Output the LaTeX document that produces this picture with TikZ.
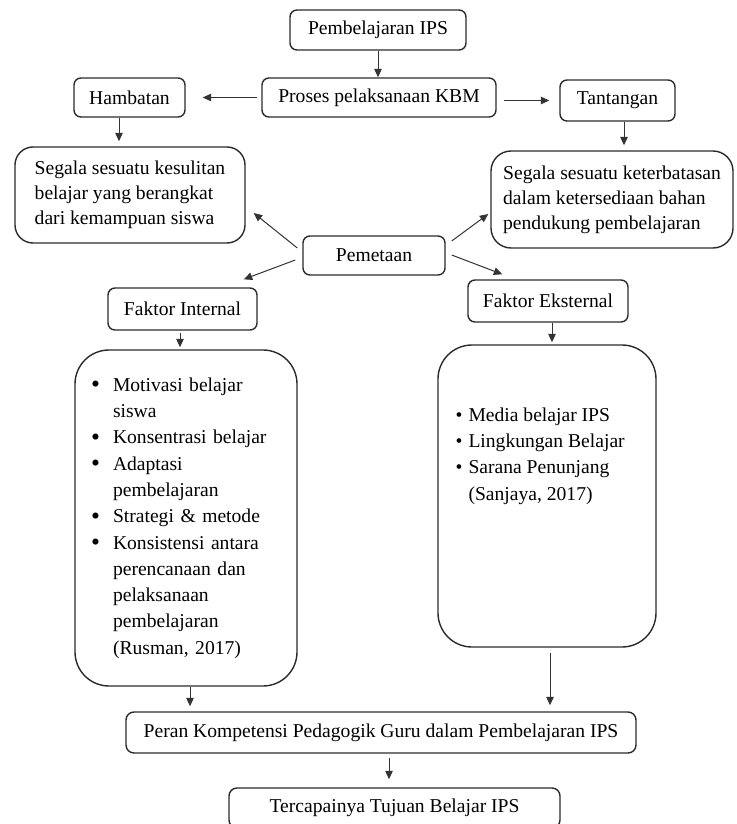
\documentclass[tikz,border=0pt]{standalone}
\usepackage{fontspec}
\setmainfont{Liberation Serif}
\usepackage{tikz}
\usetikzlibrary{arrows.meta,positioning}
\definecolor{inkline}{HTML}{2B2B2B}
\definecolor{inkarrow}{HTML}{333333}
\newcommand{\bulitem}[2][22pt]{\makebox[#1][l]{\textbullet}#2}
\newcommand{\bigbulitem}[1]{\makebox[22pt][l]{\raisebox{-0.09em}{\scalebox{1.3}{\textbullet}}}#1}
\newcommand{\bulcont}[2][22pt]{\hspace*{#1}#2}
\tikzset{
  flowbox/.style={
    rectangle, rounded corners=#1, draw=inkline, line width=1.4pt,
    font=\fontsize{19.6}{25}\selectfont, align=center, inner sep=0pt
  },
  flowbox/.default=7pt,
  notebox/.style={
    flowbox=#1, align=left
  },
  notebox/.default=18pt,
  listtext/.style={
    font=\fontsize{19.6}{26.3}\selectfont, align=left, inner sep=0pt
  },
  flowarrow/.style={
    -{Triangle[length=8.5pt,width=7.5pt]}, line width=1pt, draw=inkarrow
  },
}

\begin{document}
\begin{tikzpicture}[x=1pt, y=-1pt]
  \clip (0,0) rectangle (736,824);

  % Alur atas
  \node[flowbox, minimum width=176pt, minimum height=40pt] (pembelajaran) at (378,30) {Pembelajaran IPS};
  \node[flowbox, minimum width=234pt, minimum height=39pt] (proses) at (379,97.5) {Proses pelaksanaan KBM};
  \node[flowbox, minimum width=111pt, minimum height=39pt] (hambatan) at (129.5,97.5) {Hambatan};
  \node[flowbox, minimum width=115pt, minimum height=41pt] (tantangan) at (617.5,100.5) {Tantangan};
  \node[notebox, minimum width=230pt, minimum height=96pt] (kesulitan) at (130,195) {Segala sesuatu kesulitan\\belajar yang berangkat\\dari kemampuan siswa};
  \node[notebox=20pt, minimum width=242pt, minimum height=97pt] (keterbatasan) at (612,199.5) {Segala sesuatu keterbatasan\\dalam ketersediaan bahan\\pendukung pembelajaran};

  \draw[flowarrow] (pembelajaran.south) -- (pembelajaran.south |- proses.north);
  \draw[flowarrow, shorten <=4pt, shorten >=17pt] (proses) -- (hambatan);
  \draw[flowarrow, shorten <=7pt, shorten >=10pt] (proses.east |- tantangan.west) -- (tantangan.west);
  \draw[flowarrow, shorten >=5pt] ([xshift=-10.5pt]hambatan.south) -- ([xshift=-10.5pt]hambatan.south |- kesulitan.north);
  \draw[flowarrow, shorten >=5pt] ([xshift=6.5pt]tantangan.south) -- ([xshift=6.5pt]tantangan.south |- keterbatasan.north);

  % Pemetaan
  \node[flowbox, minimum width=142pt, minimum height=39pt] (pemetaan) at (374,255.5) {Pemetaan};
  \node[flowbox, minimum width=149pt, minimum height=42pt] (faktorint) at (182.5,309) {Faktor Internal};
  \node[flowbox, minimum width=160pt, minimum height=42pt] (faktoreks) at (548,301) {Faktor Eksternal};

  \draw[flowarrow] ([shift={(-5,-7.5)}]pemetaan.west) -- ([shift={(8,18)}]kesulitan.east);
  \draw[flowarrow] ([shift={(6,-14.5)}]pemetaan.east) -- ([shift={(-2,14.5)}]keterbatasan.west);
  \draw[flowarrow] ([shift={(-7,4.5)}]pemetaan.west) -- ([shift={(-14,-8)}]faktorint.north east);
  \draw[flowarrow] ([shift={(6,-0.5)}]pemetaan.east) -- ([shift={(35,-5)}]faktoreks.north west);

  % Daftar faktor
  \node[flowbox=34pt, listtext, text width=190pt, inner xsep=16pt, minimum height=336pt] (intbox) at (186,518) {%
    \bigbulitem{Motivasi belajar}\\
    \bulcont{siswa}\\
    \bigbulitem{Konsentrasi belajar}\\
    \bigbulitem{Adaptasi}\\
    \bulcont{pembelajaran}\\
    \bigbulitem{Strategi \& metode}\\
    \bigbulitem{Konsistensi antara}\\
    \bulcont{perencanaan dan}\\
    \bulcont{pelaksanaan}\\
    \bulcont{pembelajaran}\\
    \bulcont{(Rusman, 2017)}};
  \node[flowbox=34pt, minimum width=218pt, minimum height=302pt] (eksbox) at (547,496) {};
  \node[listtext, anchor=north west] (ekstext) at ([shift={(18,63)}]eksbox.north west) {%
    \bulitem[13pt]{Media belajar IPS}\\
    \bulitem[13pt]{Lingkungan Belajar}\\
    \bulitem[13pt]{Sarana Penunjang}\\
    \bulcont[13pt]{(Sanjaya, 2017)}};

  \draw[flowarrow, shorten <=2pt, shorten >=2pt] ([xshift=-2.5pt]faktorint.south) -- ([xshift=-2.5pt]faktorint.south |- intbox.north);
  \draw[flowarrow, shorten >=2pt] ([xshift=4pt]faktoreks.south) -- ([xshift=4pt]faktoreks.south |- eksbox.north);

  % Alur bawah
  \node[flowbox=8pt, minimum width=510pt, minimum height=41pt] (peran) at (381,732.5) {Peran Kompetensi Pedagogik Guru dalam Pembelajaran IPS};
  \node[flowbox=8pt, minimum width=331pt, minimum height=40pt] (tercapai) at (394.5,808) {Tercapainya Tujuan Belajar IPS};

  \draw[flowarrow, shorten >=5pt] ([xshift=4pt]intbox.south) -- ([xshift=4pt]intbox.south |- peran.north);
  \draw[flowarrow, shorten <=5pt, shorten >=6pt] ([xshift=3pt]eksbox.south) -- ([xshift=3pt]eksbox.south |- peran.north);
  \draw[flowarrow, shorten <=4pt, shorten >=8pt] ([xshift=8pt]peran.south) -- ([xshift=8pt]peran.south |- tercapai.north);
\end{tikzpicture}
\end{document}
